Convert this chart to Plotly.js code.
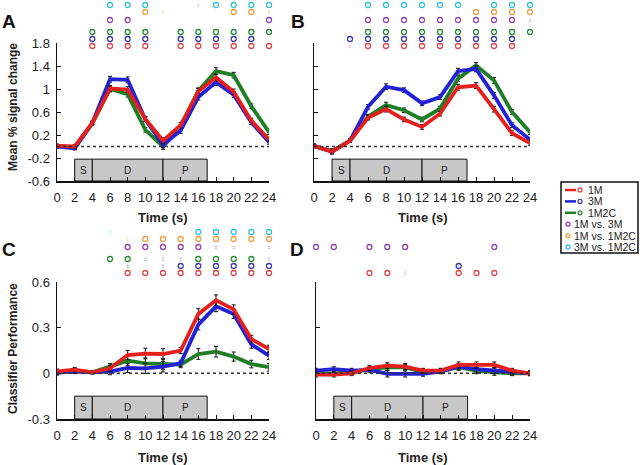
<!DOCTYPE html>
<html>
<head>
<meta charset="utf-8">
<script src="https://cdn.plot.ly/plotly-3.0.1.min.js"></script>
<style>
  html, body { margin: 0; padding: 0; background: #fff; }
  #chart { width: 640px; height: 465px; }
</style>
</head>
<body>
<div id="chart"></div>
<script>
// time points (s)
const time = [0, 2, 4, 6, 8, 10, 12, 14, 16, 18, 20, 22, 24];

// A: mean % signal change
const aM1   = [0.01, 0.00, 0.41, 1.01, 0.99, 0.48, 0.10, 0.37, 0.96, 1.20, 0.95, 0.45, 0.12];
const aM3   = [0.00, -0.03, 0.41, 1.17, 1.16, 0.47, 0.03, 0.28, 0.86, 1.12, 0.90, 0.42, 0.08];
const aM2C  = [0.01, -0.02, 0.40, 1.00, 0.91, 0.29, 0.00, 0.33, 0.97, 1.31, 1.24, 0.70, 0.25];
const aErr  = [0.03, 0.03, 0.03, 0.05, 0.05, 0.04, 0.05, 0.05, 0.05, 0.06, 0.05, 0.04, 0.04];

// B: mean % signal change
const bM1   = [0.01, -0.09, 0.10, 0.50, 0.65, 0.47, 0.34, 0.57, 1.03, 1.06, 0.65, 0.23, 0.06];
const bM3   = [0.01, -0.09, 0.10, 0.69, 1.04, 0.98, 0.75, 0.86, 1.31, 1.35, 0.89, 0.37, 0.12];
const bM2C  = [0.01, -0.08, 0.10, 0.52, 0.72, 0.63, 0.47, 0.66, 1.18, 1.41, 1.15, 0.60, 0.25];
const bErr  = [0.03, 0.04, 0.03, 0.04, 0.05, 0.04, 0.04, 0.04, 0.05, 0.05, 0.05, 0.04, 0.04];

// C: classifier performance
const cM1   = [0.013, 0.024, 0.007, 0.033, 0.120, 0.130, 0.127, 0.150, 0.390, 0.480, 0.420, 0.225, 0.160];
const cM3   = [0.005, 0.013, 0.007, 0.011, 0.035, 0.033, 0.044, 0.066, 0.320, 0.440, 0.390, 0.190, 0.116];
const cM2C  = [0.005, 0.015, 0.007, 0.044, 0.083, 0.066, 0.061, 0.057, 0.127, 0.142, 0.110, 0.061, 0.040];
const cErr  = [0.015, 0.015, 0.01, 0.02, 0.03, 0.035, 0.035, 0.02, 0.035, 0.035, 0.03, 0.025, 0.025];

// D: classifier performance
const dM1   = [-0.009, -0.009, 0.000, 0.035, 0.050, 0.044, 0.018, 0.018, 0.055, 0.055, 0.055, 0.018, 0.000];
const dM3   = [0.018, 0.028, 0.018, 0.022, -0.004, -0.004, -0.004, 0.013, 0.044, 0.028, 0.018, 0.007, 0.000];
const dM2C  = [0.000, 0.000, 0.007, 0.028, 0.040, 0.040, 0.007, 0.013, 0.040, 0.018, 0.007, 0.000, 0.000];
const dErr  = [0.015, 0.015, 0.015, 0.015, 0.02, 0.02, 0.015, 0.015, 0.02, 0.02, 0.02, 0.015, 0.015];

// trial phases
const phaseStart = [2, 4, 12];
const phaseEnd   = [4, 12, 17];
const phaseLabel = ['S', 'D', 'P'];

// significance rows, one char per time point: o = significant, # = trend, . = none
// order: 1M, 3M, 1M2C, 1M vs. 3M, 1M vs. 1M2C, 3M vs. 1M2C
const sigA = ['..oooo.oooooo', '..oooo.ooooo.', '..oooo.oooooo', '...oo.......o', '.....o#...oo#', '...ooo..#oooo'];
const sigB = ['..#ooooooooo.', '..oooooooooo.', '...oooooooooo', '...ooooooooo#', '........#oooo', '...oooooo.ooo'];
const sigC = ['....ooooooooo', '....#.#oooooo', '...oo###oooo#', '....ooooo##.#', '....#oooooooo', '...#....ooooo'];
const sigD = ['...oo#..ooo..', '........o....', '.............', 'oo.ooo....o..', '.............', '.............'];

const seriesNames = ['1M', '3M', '1M2C', '1M vs. 3M', '1M vs. 1M2C', '3M vs. 1M2C'];

const lineColors = ['#e4201e', '#2222d4', '#1f7d26'];
const sigColors  = ['#e04848', '#3c3cb0', '#2e8b3a', '#9046a8', '#f0a040', '#38c4d4'];
const rowHeight  = [4, 11, 18, 30, 38, 45];

const FONT = 'Liberation Sans, Arial, sans-serif';
const W = 640, H = 465;
const px = x => x / W;
const py = y => 1 - y / H;

const traces = [];

function addPanel(xa, ya, sa, m1, m3, m2c, err, sig) {
  // green, blue, red (red on top)
  [[m2c, 2], [m3, 1], [m1, 0]].forEach(([vals, k]) => {
    traces.push({
      x: time, y: vals, xaxis: xa, yaxis: ya,
      type: 'scatter', mode: 'lines',
      line: { color: lineColors[k], width: 3.8 },
      error_y: { type: 'data', array: err, color: '#111', thickness: 1, width: 2 },
      hoverinfo: 'skip', showlegend: false
    });
  });
  sig.forEach((row, r) => {
    const ox = [], hx = [];
    row.split('').forEach((c, i) => {
      if (c === 'o') ox.push(time[i]);
      if (c === '#') hx.push(time[i]);
    });
    traces.push({
      x: ox, y: ox.map(() => rowHeight[r]), xaxis: xa, yaxis: sa,
      type: 'scatter', mode: 'markers', cliponaxis: false,
      marker: { symbol: 'circle-open', size: 5, color: sigColors[r], line: { width: 1.3 } },
      hoverinfo: 'skip', showlegend: false
    });
    traces.push({
      x: hx, y: hx.map(() => rowHeight[r]), xaxis: xa, yaxis: sa,
      type: 'scatter', mode: 'text', cliponaxis: false,
      text: hx.map(() => '‡'),
      textfont: { family: FONT, size: 6, color: sigColors[r] },
      opacity: 0.6,
      hoverinfo: 'skip', showlegend: false
    });
  });
}

addPanel('x',  'y',  'y5', aM1, aM3, aM2C, aErr, sigA);
addPanel('x2', 'y2', 'y6', bM1, bM3, bM2C, bErr, sigB);
addPanel('x3', 'y3', 'y7', cM1, cM3, cM2C, cErr, sigC);
addPanel('x4', 'y4', 'y8', dM1, dM3, dM2C, dErr, sigD);

const xBase = {
  range: [0, 24], tickvals: time, ticks: 'inside', ticklen: 4, tickcolor: '#111',
  showline: true, linecolor: '#111', linewidth: 1.5, showgrid: false, zeroline: false,
  tickfont: { family: FONT, size: 13, color: '#222' }, ticklabelstandoff: 4, fixedrange: true
};
const yBase = {
  ticks: 'inside', ticklen: 4, tickcolor: '#111',
  showline: true, linecolor: '#111', linewidth: 1.5, showgrid: false, zeroline: false,
  tickfont: { family: FONT, size: 13, color: '#222' }, ticklabelstandoff: 3, fixedrange: true
};
const sigAxis = { range: [0, 50], visible: false, fixedrange: true };

const ticksAB = [-0.6, -0.2, 0.2, 0.6, 1, 1.4, 1.8];
const ticksCD = [-0.3, 0, 0.3, 0.6];

const domA = [px(57), px(269)], domB = [px(314), px(530)], domD = [px(316), px(530)];
const domTop = [py(181), py(43)], domBot = [py(419), py(282)];

const shapes = [];
const annotations = [];

function note(x, y, text, size, extra) {
  annotations.push(Object.assign({
    xref: 'paper', yref: 'paper', x: px(x), y: py(y), xanchor: 'center', yanchor: 'middle',
    text: text, showarrow: false, font: { family: FONT, size: size, color: '#222' }
  }, extra || {}));
}

[['x', 'y', -0.6, -0.22], ['x2', 'y2', -0.6, -0.22], ['x3', 'y3', -0.3, -0.15], ['x4', 'y4', -0.3, -0.15]].forEach(([xa, ya, lo, hi]) => {
  shapes.push({
    type: 'line', xref: xa, yref: ya, x0: 0, x1: 24, y0: 0, y1: 0,
    line: { color: '#333', width: 1.5, dash: 'dot' }
  });
  phaseStart.forEach((s, i) => {
    shapes.push({
      type: 'rect', xref: xa, yref: ya, x0: s, x1: phaseEnd[i], y0: lo, y1: hi,
      fillcolor: '#c8c8c8', line: { color: '#111', width: 1 }, layer: 'below'
    });
    annotations.push({
      xref: xa, yref: ya, x: (s + phaseEnd[i]) / 2, y: (lo + hi) / 2,
      xanchor: 'center', yanchor: 'middle',
      text: phaseLabel[i], showarrow: false,
      font: { family: FONT, size: 10, color: '#222' }
    });
  });
});

// panel letters and axis titles
[['A', 9, 21], ['B', 298, 21], ['C', 9, 249], ['D', 297, 249]].forEach(([t, x, y]) => {
  note(x, y, '<b>' + t + '</b>', 19, { font: { family: FONT, size: 19, color: '#111' } });
});
[[163, 218], [423, 218], [163, 457], [423, 457]].forEach(([x, y]) => {
  note(x, y, '<b>Time (s)</b>', 13);
});
[['Mean % signal change', 107], ['Classifier Performance', 349]].forEach(([t, y]) => {
  note(13, y, '<b>' + t + '</b>', 12, { textangle: -90 });
});

// legend
shapes.push({
  type: 'rect', xref: 'paper', yref: 'paper', x0: px(561), x1: px(638), y0: py(253), y1: py(182),
  line: { color: '#111', width: 1.5 }, fillcolor: '#fff'
});
seriesNames.forEach((name, i) => {
  const y = 190 + i * 11.4;
  if (i < 3) {
    shapes.push({
      type: 'line', xref: 'paper', yref: 'paper', x0: px(565), x1: px(576), y0: py(y), y1: py(y),
      line: { color: lineColors[i], width: 2.5 }
    });
  }
  const cx = i < 3 ? 580 : 568;
  shapes.push({
    type: 'circle', xref: 'paper', yref: 'paper',
    x0: px(cx - 2), x1: px(cx + 2), y0: py(y + 2), y1: py(y - 2),
    line: { color: sigColors[i], width: 1.3 }
  });
  note(i < 3 ? 586 : 572, y, name, 10.5, { xanchor: 'left' });
});

const layout = {
  width: W, height: H,
  margin: { l: 0, r: 0, t: 0, b: 0 },
  paper_bgcolor: '#fff', plot_bgcolor: 'rgba(0,0,0,0)',
  showlegend: false,
  xaxis:  Object.assign({}, xBase, { domain: domA, anchor: 'y' }),
  xaxis2: Object.assign({}, xBase, { domain: domB, anchor: 'y2' }),
  xaxis3: Object.assign({}, xBase, { domain: domA, anchor: 'y3' }),
  xaxis4: Object.assign({}, xBase, { domain: domD, anchor: 'y4' }),
  yaxis:  Object.assign({}, yBase, { domain: domTop, anchor: 'x',  range: [-0.6, 1.8], tickvals: ticksAB, ticktext: ticksAB.map(String) }),
  yaxis2: Object.assign({}, yBase, { domain: domTop, anchor: 'x2', range: [-0.6, 1.8], tickvals: ticksAB, showticklabels: false }),
  yaxis3: Object.assign({}, yBase, { domain: domBot, anchor: 'x3', range: [-0.3, 0.6], tickvals: ticksCD, ticktext: ticksCD.map(String) }),
  yaxis4: Object.assign({}, yBase, { domain: domBot, anchor: 'x4', range: [-0.3, 0.6], tickvals: ticksCD, showticklabels: false }),
  yaxis5: Object.assign({}, sigAxis, { domain: [py(50), 1], anchor: 'x' }),
  yaxis6: Object.assign({}, sigAxis, { domain: [py(50), 1], anchor: 'x2' }),
  yaxis7: Object.assign({}, sigAxis, { domain: [py(277), py(227)], anchor: 'x3' }),
  yaxis8: Object.assign({}, sigAxis, { domain: [py(277), py(227)], anchor: 'x4' }),
  shapes: shapes,
  annotations: annotations
};

Plotly.newPlot('chart', traces, layout, { displayModeBar: false, staticPlot: true });
</script>
</body>
</html>
